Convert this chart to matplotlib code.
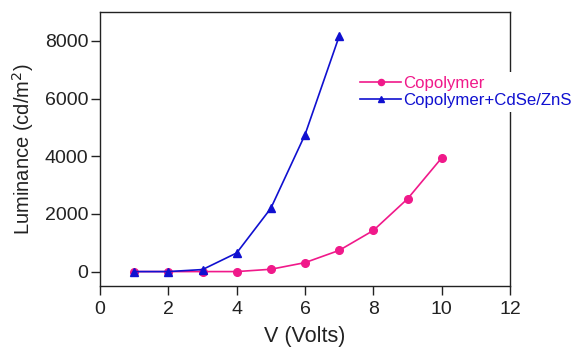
import matplotlib
matplotlib.use("Agg")
import matplotlib.pyplot as plt

plt.rcParams['font.family'] = ['Liberation Sans', 'DejaVu Sans']

volts_copolymer = [1, 2, 3, 4, 5, 6, 7, 8, 9, 10]
lum_copolymer = [0, 0, 0, 0, 80, 310, 735, 1425, 2520, 3940]
volts_qd = [1, 2, 3, 4, 5, 6, 7]
lum_qd = [0, 0, 70, 645, 2195, 4745, 8160]

pink = '#F0198A'
blue = '#1010D0'

fig = plt.figure(figsize=(5.79, 3.48), dpi=100)
ax = fig.add_axes([100/579, (348-286)/348, 410/579, 274/348])

ax.plot(volts_copolymer, lum_copolymer, color=pink, lw=1.2, marker='o', ms=5.5,
        label='Copolymer')
ax.plot(volts_qd, lum_qd, color=blue, lw=1.2, marker='^', ms=5.8,
        label='Copolymer+CdSe/ZnS')

ax.set_xlim(0, 12)
ax.set_ylim(-500, 9000)
ax.set_xticks([0, 2, 4, 6, 8, 10, 12])
ax.set_yticks([0, 2000, 4000, 6000, 8000])
ax.tick_params(direction='out', length=6.5, width=1, labelsize=14, color='#222222',
               labelcolor='#222222')
ax.tick_params(axis='y', pad=2)
ax.tick_params(axis='x', pad=4)
for s in ax.spines.values():
    s.set_linewidth(1)
    s.set_color('#222222')

ax.set_xlabel('V (Volts)', fontsize=15.5, color='#222222', labelpad=6)
ax.set_ylabel('Luminance (cd/m$^2$)', fontsize=14.5, color='#222222', labelpad=6)

leg = ax.legend(loc='upper left', bbox_to_anchor=(356/579, (348-72)/348),
                bbox_transform=fig.transFigure, frameon=True, fancybox=False,
                edgecolor='none', facecolor='white', framealpha=1,
                fontsize=12.1, handlelength=2.45, handletextpad=0.12, labelspacing=0.12,
                markerscale=0.8, borderpad=0.25, borderaxespad=0)
for text, c in zip(leg.get_texts(), [pink, blue]):
    text.set_color(c)

fig.savefig('out.png', dpi=100)
